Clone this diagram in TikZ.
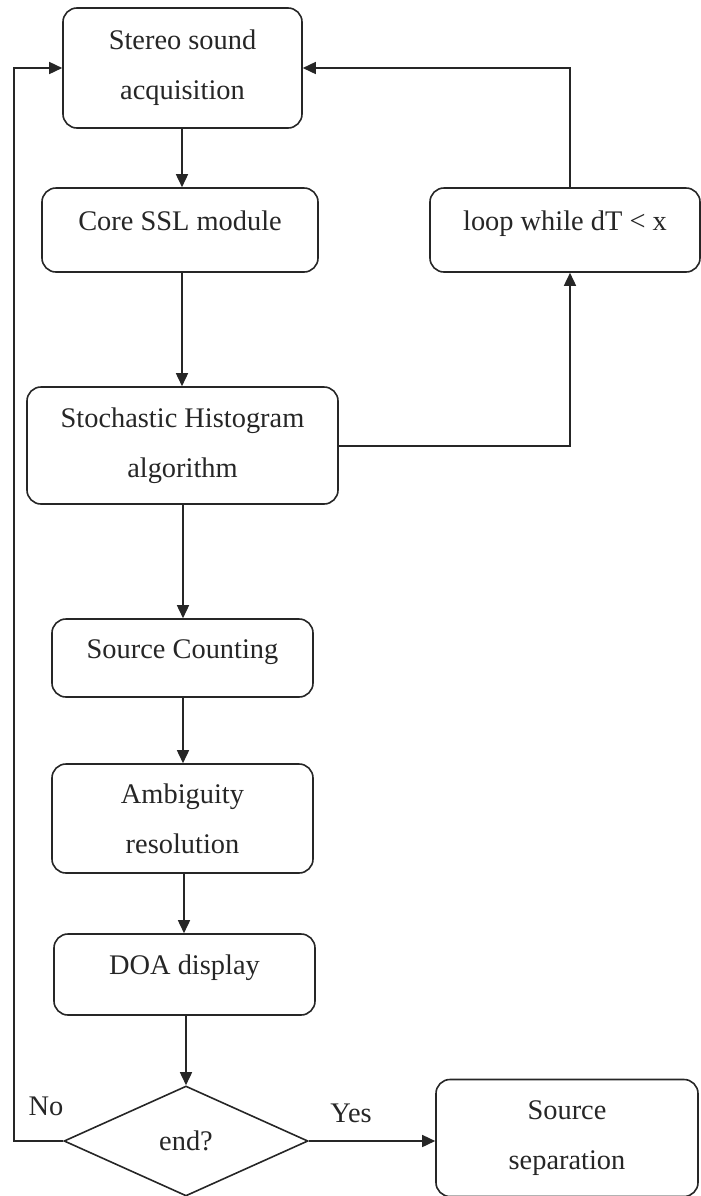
\documentclass[tikz,border=0pt]{standalone}
\usepackage{fontspec}
\setmainfont{Liberation Serif}
\usetikzlibrary{arrows.meta,shapes.geometric}
\definecolor{ink}{HTML}{262626}
\begin{document}
\begin{tikzpicture}[x=1bp,y=-1bp,
  box/.style={draw=ink, line width=1.6bp, rounded corners=14bp, align=center, text=ink,
    inner sep=0pt, font=\fontsize{28.5}{50}\selectfont},
  oneline/.style={text height=20bp, text depth=20bp},
  arr/.style={draw=ink, line width=1.6bp, -{Triangle[length=13bp,width=12bp]}},
  lab/.style={text=ink, inner sep=0pt, font=\fontsize{28.5}{34}\selectfont}]
\useasboundingbox (0,0) rectangle (701,1196);

\node[box, minimum width=239bp, minimum height=120bp] (stereo) at (182.5,68) {Stereo sound\\acquisition};
\node[box, oneline, minimum width=276bp, minimum height=84bp] (core) at (180,230) {Core SSL module};
\node[box, oneline, minimum width=270bp, minimum height=84bp] (loop) at (565,230) {loop while dT < x};
\node[box, minimum width=311bp, minimum height=117bp] (stoch) at (182.5,445.5) {Stochastic Histogram\\algorithm};
\node[box, oneline, minimum width=261bp, minimum height=78bp] (count) at (182.5,658) {Source Counting};
\node[box, minimum width=261bp, minimum height=109bp] (ambig) at (182.5,818.5) {Ambiguity\\resolution};
\node[box, oneline, minimum width=261bp, minimum height=81bp] (doa) at (184.5,974.5) {DOA display};
\node[draw=ink, line width=1.6bp, diamond, inner sep=0pt, text=ink, font=\fontsize{28.5}{34}\selectfont,
  minimum width=244bp, minimum height=110bp] (dec) at (186,1141) {end?};
\node[box, minimum width=262bp, minimum height=117bp] (sep) at (567,1138) {Source\\separation};

\coordinate (lt) at (14,68);
\coordinate (lb) at (14,1141);
\coordinate (rt) at (570,68);
\coordinate (rb) at (570,446);

\draw[arr] (stereo.south -| 182,0) -- (core.north -| 182,0);
\draw[arr] (core.south -| 182,0) -- (stoch.north -| 182,0);
\draw[arr] (stoch.south -| 183,0) -- (count.north -| 183,0);
\draw[arr] (count.south -| 183,0) -- (ambig.north -| 183,0);
\draw[arr] (ambig.south -| 184,0) -- (doa.north -| 184,0);
\draw[arr] (doa.south -| 186,0) -- (dec.north);
\draw[arr] (dec.east) -- (sep.west |- dec.east);
\draw[arr] (dec.west) -- (lb) -- (lt) -- (stereo.west |- lt);
\draw[arr] (stoch.east |- rb) -- (rb) -- (loop.south -| rb);
\draw[arr] (loop.north -| rt) -- (rt) -- (stereo.east |- rt);

\node[lab] (no) at (46,1106) {No};
\node[lab] (yes) at (351,1113) {Yes};
\end{tikzpicture}
\end{document}
